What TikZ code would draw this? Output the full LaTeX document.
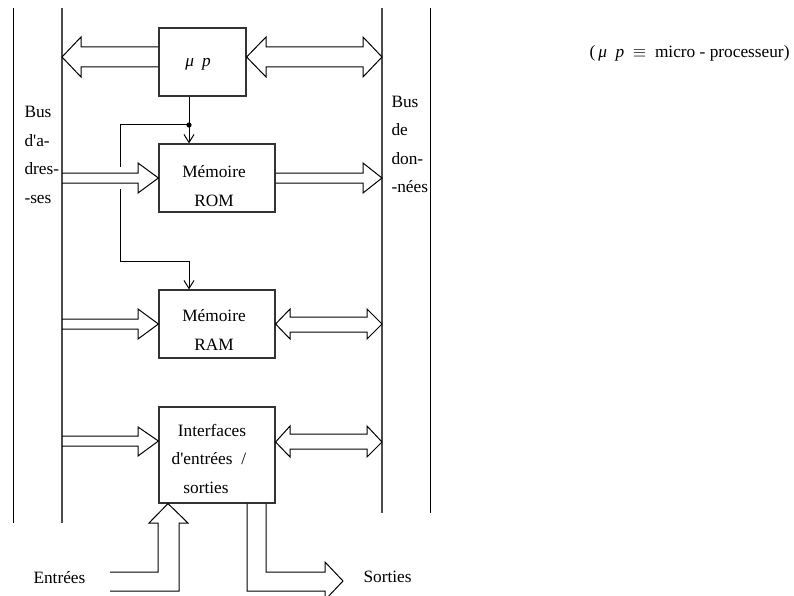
\documentclass[tikz,border=0pt]{standalone}
\usepackage{fontspec}
\setmainfont{Liberation Serif}
\usetikzlibrary{arrows.meta}

\tikzset{
  bloc/.style={draw=black!80, line width=1.2pt, inner sep=0pt},
  creux/.style={draw, line width=1pt, line join=miter},
  bus/.style={line width=1.3pt, black!70},
  fin/.style={-{Straight Barb[length=8pt,width=10pt]}},
  txt/.style={align=center, inner sep=0pt, font=\fontsize{17.3}{28.5}\selectfont},
}

\begin{document}
\begin{tikzpicture}[x=1pt, y=-1pt, line width=1pt]
    \useasboundingbox (0,0) rectangle (794,596);
    \clip (0,0) rectangle (794,596);

    % Bus d'adresses (gauche) et bus de données (droite).
    \draw (13,8) -- (13,523);
    \draw[bus] (62,8) -- (62,523);
    \draw[bus] (382,8) -- (382,513);
    \draw (430,8) -- (430,513);

    % Blocs.
    \node[bloc, minimum width=87, minimum height=68] (mp) at (202.5,62) {};
    \node[bloc, minimum width=116, minimum height=68] (rom) at (217,178) {};
    \node[bloc, minimum width=116, minimum height=68] (ram) at (217,324) {};
    \node[bloc, minimum width=116, minimum height=96] (io) at (217,455) {};

    % Textes des blocs (ancre base = dernière ligne).
    \node[txt, anchor=base] (mp-t) at (198,67) {\textit{μ}\hspace{8pt}\textit{p}};
    \node[txt, anchor=base] (rom-t) at (214,206) {Mémoire\\ROM};
    \node[txt, anchor=base] (ram-t) at (214,350) {Mémoire\\RAM};
    \node[txt, anchor=base] (io-t) at (209,493)
      {\hspace*{6pt}Interfaces\\d\textquotesingle entrées\hspace{9pt}/\\sorties\hspace*{6pt}};

    % Noms des bus.
    \node[txt, align=left, anchor=base west] (adr) at (24,203) {Bus\\d\textquotesingle a-\\dres-\\-ses};
    \node[txt, align=left, anchor=base west] (don) at (391,193) {Bus\\de\\don-\\-nées};

    % Légende.
    \node[txt, anchor=base east] (leg) at (790,58)
      {(\,\textit{μ}\ \ \textit{p}\ \ $\equiv$\ \ micro - processeur)};

    % Flèches creuses du microprocesseur.
    \draw[creux] (mp.west |- 0,47) -- (81,47) -- (81,37) -- (62,57) -- (81,77) -- (81,67) -- (mp.west |- 0,67);
    \draw[creux] (mp.east |- 0,57) -- (266,37) -- (266,47) -- (363,47) -- (363,37) -- (382,57)
      -- (363,77) -- (363,67) -- (266,67) -- (266,77) -- cycle;

    % Flèches creuses de la ROM.
    \draw[creux] (62,173) -- (138,173) -- (138,163) -- (rom.west) -- (138,193) -- (138,183) -- (62,183);
    \draw[creux] (rom.east |- 0,173) -- (363,173) -- (363,163) -- (382,178) -- (363,193) -- (363,183) -- (rom.east |- 0,183);

    % Flèches creuses de la RAM.
    \draw[creux] (62,319) -- (138,319) -- (138,309) -- (ram.west) -- (138,339) -- (138,329) -- (62,329);
    \draw[creux] (ram.east) -- (290,309) -- (290,317) -- (367,317) -- (367,309) -- (382,324)
      -- (367,339) -- (367,332) -- (290,332) -- (290,339) -- cycle;

    % Flèches creuses des interfaces.
    \draw[creux] (62,436) -- (138,436) -- (138,427) -- (io.west |- 0,441) -- (138,456) -- (138,446) -- (62,446);
    \draw[creux] (io.east |- 0,442) -- (290,426) -- (290,434) -- (367,434) -- (367,426) -- (382,442)
      -- (367,457) -- (367,449) -- (290,449) -- (290,457) -- cycle;

    % Entrées et sorties.
    \node[txt, anchor=base west] (ent) at (33,583) {Entrées};
    \node[txt, anchor=base west] (sor) at (363,582) {Sorties};
    \draw[creux] (110,572) -- (158,572) -- (158,523) -- (149,523) -- (io.south -| 168,0)
      -- (188,523) -- (179,523) -- (179,591) -- (110,591);
    \draw[creux] (io.south -| 266,0) -- (266,572) -- (325,572) -- (325,562) -- (343,581)
      -- (325,600) -- (325,591) -- (247,591) -- (io.south -| 247,0);

    % Ligne de commande (sélection des mémoires).
    \coordinate (noeud) at (189,125);
    \draw[fin] (mp.south -| noeud) -- (rom.north -| noeud);
    \fill (noeud) circle (2.6);
    \draw (noeud) -- (120,125) -- (120,167);
    \draw[fin] (120,189) -- (120,261) -- (189,261) -- (ram.north -| noeud);
\end{tikzpicture}
\end{document}
